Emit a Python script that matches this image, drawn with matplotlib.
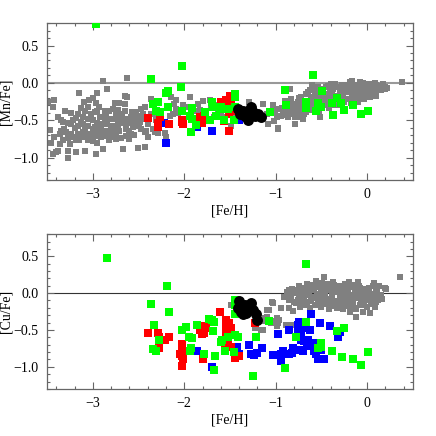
import matplotlib
matplotlib.use("Agg")
import matplotlib.pyplot as plt
from matplotlib.ticker import MultipleLocator

# ---- [Mn/Fe] panel ----
mn_gray_x = [-2.89, -2.63, -3.15, -2.95, -2.84, -2.65, -2.63, -3.42, -3.49, -3.44,
             -3.10, -3.04, -3.00, -2.96, -2.93, -3.05, -3.09, -3.02, -2.98, -2.95,
             -2.87, -2.82, -2.76, -2.71, -2.65, -2.78, -2.75, -2.71, -2.65, -2.57,
             -2.53, -2.47, -2.43, -3.30, -3.24, -3.18, -3.16, -3.11, -3.05, -3.00,
             -2.95, -2.87, -2.82, -2.76, -2.69, -2.63, -2.58, -2.54, -2.49, -2.45,
             -3.35, -3.33, -3.27, -3.24, -3.22, -3.16, -3.11, -3.05, -2.98, -2.93,
             -2.89, -2.84, -2.78, -2.73, -2.67, -2.62, -2.56, -2.51, -2.43, -2.36,
             -3.47, -3.35, -3.29, -3.24, -3.16, -3.11, -3.05, -2.98, -2.93, -2.87,
             -2.82, -2.76, -2.71, -2.64, -2.56, -2.49, -2.42, -3.42, -3.33, -3.27,
             -3.22, -3.18, -3.15, -3.11, -3.07, -3.02, -2.96, -2.91, -2.85, -2.80,
             -2.75, -2.69, -2.64, -2.58, -3.46, -3.36, -3.25, -3.15, -3.05, -2.95,
             -2.82, -2.75, -3.38, -3.40, -3.44, -3.27, -3.18, -3.08, -2.97, -2.89,
             -2.67, -2.51, -2.43, -3.27,
             -3.38, -3.32, -3.20, -3.13, -3.08, -3.00, -2.91, -2.86, -2.80, -2.72,
             -2.68, -2.60, -2.55, -2.47, -2.40, -2.92, -3.13, -2.72, -3.36, -3.00,
             -2.60, -2.48,
             -2.36, -2.33, -2.34, -2.32, -2.29, -2.21, -2.14, -2.11, -2.09, -2.07,
             -2.12, -2.16, -2.01, -1.96, -1.94, -1.85, -1.83, -1.80, -1.72, -1.71,
             -1.67, -1.63, -1.60, -1.56, -1.67, -1.49, -1.14, -1.10, -1.29, -0.99,
             -0.98, -0.85, -1.01, -2.43, -2.40, -2.20, -2.34, -2.31, -2.09, -1.87,
             -1.69, -1.61, -1.47, -1.43,
             -0.84, -1.03, -0.96, -1.08, -0.98, -1.02, -0.79, -0.87, -0.92, -0.89,
             -0.85, -0.81, -0.76, -0.72, -0.68, -0.74, -0.78, -0.65, -0.59, -0.54,
             -0.61, -0.58, -0.52, -0.47, -0.41, -0.37, -0.34, -0.45, -0.30, -0.25,
             -0.19, -0.21, -0.16, -0.17, -0.12, -0.08, -0.03, 0.01, 0.04, 0.08,
             0.13, 0.19, 0.12, 0.04, -0.03, -0.10, -0.16, -0.23, -0.30, -0.37,
             -0.41, -0.50, -0.56, -0.63, -0.67, -0.72, -0.79, -0.83, -0.87, -0.94,
             0.38, -0.54, -0.48, -0.43, -0.36, -0.28, -0.21, -0.14, -0.07, 0.01,
             -0.08, -0.28, -0.39, -0.47, -0.54, -0.61, -0.68, -0.74, -0.79, -0.90,
             -0.70, -0.19, 0.04, -0.14, -0.25, -0.34, -0.17, 0.19, 0.10,
             -0.93, -0.90, -0.88, -0.86, -0.83, -0.81, -0.79, -0.77, -0.75, -0.73,
             -0.71, -0.69, -0.67, -0.66, -0.64, -0.62, -0.60, -0.58, -0.57, -0.55,
             -0.53, -0.51, -0.50, -0.48, -0.46, -0.45, -0.43, -0.42, -0.40, -0.38,
             -0.36, -0.35, -0.33, -0.31, -0.29, -0.27, -0.26, -0.24, -0.22, -0.20,
             -0.18, -0.17, -0.15, -0.13, -0.11, -0.10, -0.08, -0.06, -0.05, -0.03,
             -0.01, 0.02, 0.03, 0.05, 0.07, 0.09, 0.10, 0.12, 0.15, 0.17,
             0.22, -0.60, -0.52, -0.40]
mn_gray_y = [0.03, 0.06, -0.13, -0.13, -0.08, -0.17, -0.19, -0.23, -0.25, -0.32,
             -0.26, -0.23, -0.20, -0.27, -0.32, -0.32, -0.37, -0.41, -0.39, -0.37,
             -0.37, -0.37, -0.27, -0.27, -0.28, -0.35, -0.41, -0.41, -0.37, -0.39,
             -0.39, -0.35, -0.32, -0.38, -0.40, -0.47, -0.41, -0.46, -0.48, -0.50,
             -0.53, -0.50, -0.48, -0.48, -0.50, -0.48, -0.46, -0.45, -0.44, -0.41,
             -0.50, -0.52, -0.54, -0.55, -0.50, -0.57, -0.55, -0.57, -0.59, -0.57,
             -0.55, -0.55, -0.57, -0.55, -0.53, -0.53, -0.53, -0.50, -0.48, -0.41,
             -0.63, -0.64, -0.66, -0.68, -0.69, -0.66, -0.68, -0.66, -0.65, -0.64,
             -0.66, -0.64, -0.64, -0.62, -0.59, -0.57, -0.65, -0.72, -0.77, -0.74,
             -0.72, -0.77, -0.75, -0.73, -0.71, -0.70, -0.71, -0.72, -0.71, -0.72,
             -0.73, -0.74, -0.71, -0.68, -0.80, -0.82, -0.82, -0.77, -0.77, -0.80,
             -0.77, -0.75, -0.91, -0.93, -0.95, -0.91, -0.92, -0.91, -0.95, -0.89,
             -0.89, -0.87, -0.86, -1.00,
             -0.45, -0.62, -0.60, -0.52, -0.62, -0.62, -0.62, -0.45, -0.62, -0.60,
             -0.45, -0.64, -0.70, -0.62, -0.55, -0.45, -0.34, -0.36, -0.68, -0.78,
             -0.75, -0.52,
             -0.22, -0.28, -0.41, -0.66, -0.67, -0.67, -0.19, -0.28, -0.35, -0.40,
             -0.41, -0.44, -0.30, -0.32, -0.19, -0.28, -0.36, -0.24, -0.23, -0.32,
             -0.30, -0.36, -0.41, -0.46, -0.46, -0.57, -0.28, -0.41, -0.26, -0.46,
             -0.62, -0.08, -0.37, -0.66, -0.73, -0.72, -0.62, -0.50, -0.23, -0.37,
             -0.32, -0.37, -0.44, -0.32,
             -0.08, -0.30, -0.35, -0.55, -0.61, -0.51, -0.55, -0.46, -0.41, -0.37,
             -0.26, -0.32, -0.26, -0.19, -0.35, -0.39, -0.35, -0.12, -0.05, -0.05,
             -0.26, -0.19, -0.17, -0.26, -0.12, -0.08, -0.05, -0.05, -0.12, -0.10,
             0.01, -0.05, -0.03, -0.17, -0.12, -0.05, -0.08, -0.05, -0.04, -0.03,
             -0.05, -0.08, -0.10, -0.10, -0.14, -0.19, -0.25, -0.21, -0.23, -0.26,
             -0.30, -0.32, -0.29, -0.30, -0.39, -0.44, -0.46, -0.41, -0.39, -0.44,
             0.01, -0.10, -0.12, -0.17, -0.17, -0.17, -0.12, -0.08, -0.12, -0.12,
             0.01, -0.03, -0.19, -0.19, -0.23, -0.19, -0.28, -0.30, -0.37, -0.30,
             -0.48, -0.12, -0.16, -0.26, -0.26, -0.30, -0.23, -0.06, -0.03,
             -0.34, -0.24, -0.43, -0.31, -0.22, -0.38, -0.28, -0.45, -0.20, -0.33,
             -0.24, -0.42, -0.15, -0.29, -0.36, -0.10, -0.22, -0.33, -0.14, -0.27,
             -0.38, -0.20, -0.08, -0.30, -0.15, -0.22, -0.04, -0.33, -0.21, -0.12,
             -0.28, -0.02, -0.17, -0.24, -0.07, -0.30, -0.14, -0.03, -0.21, -0.09,
             -0.27, 0.02, -0.14, -0.20, -0.03, -0.25, -0.10, -0.17, 0.00, -0.22,
             -0.11, -0.02, -0.19, -0.07, -0.13, 0.00, -0.17, -0.04, -0.10, -0.02,
             -0.07, -0.03, -0.46, -0.02]

mn_green_x = [-2.97, -2.03, -2.36, -2.04, -2.18, -2.20, -2.34, -2.29, -2.31, -2.27,
              -2.18, -2.02, -1.94, -1.92, -1.91, -1.87, -1.93, -1.77, -1.72, -1.70,
              -1.69, -1.65, -1.61, -1.60, -1.57, -1.45, -1.45, -1.52, -1.46, -1.45,
              -1.06, -0.90, -0.89, -0.67, -0.67, -0.59, -0.56, -0.54, -0.49, -0.50,
              -0.38, -0.37, -0.33, -0.29, -0.25, -0.16, -0.07, 0.01]
mn_green_y = [0.79, 0.23, 0.05, -0.06, -0.11, -0.14, -0.28, -0.26, -0.37, -0.39,
              -0.32, -0.37, -0.44, -0.48, -0.33, -0.56, -0.66, -0.39, -0.50, -0.26,
              -0.32, -0.44, -0.35, -0.32, -0.50, -0.15, -0.19, -0.35, -0.50, -0.32,
              -0.39, -0.09, -0.30, -0.25, -0.33, 0.11, -0.38, -0.27, -0.11, -0.32,
              -0.27, -0.43, -0.20, -0.27, -0.36, -0.30, -0.42, -0.38]

mn_red_x = [-2.40, -2.29, -2.29, -2.27, -2.17, -2.03, -2.01, -2.02, -1.83, -1.80,
            -1.81, -1.78, -1.60, -1.54, -1.50, -1.52, -1.49, -1.51, -1.57, -1.51,
            -1.47]
mn_red_y = [-0.47, -0.53, -0.59, -0.46, -0.55, -0.52, -0.55, -0.50, -0.46, -0.48,
            -0.53, -0.44, -0.26, -0.23, -0.17, -0.30, -0.26, -0.42, -0.51, -0.65,
            -0.37]

mn_blue_x = [-2.22, -2.20, -1.86, -1.70, -1.40, -1.23]
mn_blue_y = [-0.53, -0.80, -0.59, -0.64, -0.50, -0.46]

mn_black_x = [-1.41, -1.36, -1.34, -1.30, -1.27, -1.25, -1.19, -1.16, -1.39, -1.30,
              -1.23]
mn_black_y = [-0.35, -0.37, -0.44, -0.50, -0.32, -0.39, -0.41, -0.46, -0.41, -0.37,
              -0.44]

# ---- [Cu/Fe] panel ----
cu_gray_x = [-0.47, 0.36, -1.03, -1.07, -0.94, -0.99, -1.10, -0.96, -1.01, -0.98,
             -0.89, -0.83, -0.85, -0.81, -0.85, -0.87, -0.83, -0.79, -0.74, -0.72,
             -0.76, -0.69, -0.65, -0.61, -0.58, -0.54, -0.50, -0.54, -0.61, -0.68,
             -0.45, -0.41, -0.39, -0.36, -0.32, -0.28, -0.27, -0.21, -0.19, -0.14,
             -0.10, -0.07, -0.03, 0.01, 0.04, 0.08, 0.10, 0.13, 0.19, -0.14,
             -0.19, -0.12, 0.03, -0.28, -0.36, -0.41, -0.47, -0.34, -0.23, -0.17,
             -0.03, -0.78, -0.72, -0.79, -0.67, -0.58, -0.48, -0.30, -0.16, -0.25,
             -0.38, -0.47, -0.08, 0.01, 0.12, 0.06,
             -1.49, -1.14, -1.12, -1.23, -1.16, -1.09, -1.14, -1.05, -0.99, -1.04,
             -0.89,
             -0.91, -0.88, -0.86, -0.82, -0.80, -0.77, -0.75, -0.73, -0.70, -0.70,
             -0.66, -0.66, -0.64, -0.63, -0.60, -0.59, -0.57, -0.56, -0.55, -0.52,
             -0.52, -0.50, -0.49, -0.48, -0.46, -0.44, -0.43, -0.42, -0.40, -0.38,
             -0.37, -0.35, -0.33, -0.31, -0.30, -0.29, -0.27, -0.26, -0.24, -0.23,
             -0.22, -0.20, -0.18, -0.17, -0.15, -0.13, -0.12, -0.11, -0.09, -0.08,
             -0.06, -0.05, -0.04, -0.02, 0.00, 0.02, 0.03, 0.05, 0.06, 0.08,
             0.10, 0.11, 0.13, 0.15, 0.16, 0.21, 0.09, -0.62, -0.45, -0.34,
             -0.72, -0.84, -0.10, -0.20, -0.50]
cu_gray_y = [0.22, 0.22, -0.13, -0.23, -0.20, -0.34, -0.32, -0.36, -0.38, -0.41,
             -0.43, -0.43, -0.20, -0.24, 0.04, -0.01, -0.05, 0.04, 0.09, 0.02,
             -0.09, -0.05, 0.07, 0.11, 0.04, 0.13, 0.00, -0.09, -0.11, -0.16,
             0.09, 0.04, -0.05, 0.11, 0.02, -0.09, 0.09, 0.04, -0.05, 0.11,
             0.00, -0.11, 0.04, -0.05, -0.11, 0.14, 0.04, -0.02, 0.07, -0.20,
             -0.25, -0.32, -0.27, -0.16, -0.18, -0.16, -0.11, -0.11, -0.14, -0.14,
             -0.16, -0.14, -0.14, 0.00, 0.00, -0.05, -0.05, -0.05, -0.07, 0.00,
             0.00, 0.02, 0.07, 0.02, -0.09, -0.02,
             -0.16, -0.38, -0.34, -0.47, -0.50, -0.23, -0.50, -0.40, -0.44, -0.12,
             -0.43,
             -0.05, 0.02, -0.10, 0.06, -0.12, 0.03, -0.04, -0.19, 0.07, -0.09,
             0.13, -0.12, -0.02, -0.20, 0.08, -0.06, -0.16, 0.16, -0.01, 0.08,
             -0.12, -0.19, 0.14, 0.05, -0.02, -0.15, 0.12, -0.22, 0.07, -0.09,
             0.15, 0.03, -0.20, 0.10, -0.03, -0.13, 0.05, -0.22, 0.12, -0.07,
             0.01, -0.17, 0.08, -0.02, -0.12, 0.04, -0.22, -0.07, 0.09, -0.16,
             -0.02, -0.25, 0.05, -0.09, -0.19, 0.07, -0.01, -0.15, 0.10, -0.06,
             -0.12, 0.02, 0.09, -0.03, -0.08, 0.05, -0.19, 0.05, -0.08, -0.15,
             -0.02, -0.04, 0.15, 0.15, 0.11]

cu_green_x = [-2.85, -2.19, -2.36, -2.17, -2.33, -2.28, -2.34, -2.31, -2.02, -1.98,
              -1.95, -1.91, -1.93, -1.94, -1.86, -1.73, -1.70, -1.67, -1.69, -1.78,
              -1.66, -1.67, -1.59, -1.60, -1.56, -1.52, -1.45, -1.45, -1.45, -1.45,
              -1.41, -1.46, -1.22, -1.25, -1.07, -0.67, -0.67, -0.78, -0.90, -0.54,
              -0.51, -0.50, -0.38, -0.33, -0.25, -0.28, -0.16, -0.07, 0.01]
cu_green_y = [0.47, 0.10, -0.15, -0.26, -0.43, -0.64, -0.76, -0.78, -0.50, -0.46,
              -0.60, -0.61, -0.74, -0.78, -0.43, -0.35, -0.37, -0.39, -0.52, -0.82,
              -0.85, -1.05, -0.63, -0.67, -0.79, -0.60, -0.10, -0.16, -0.28, -0.57,
              -0.60, -0.80, -0.60, -1.13, -0.38, 0.39, -0.39, -0.59, -1.02, -0.74,
              -0.68, -0.73, -0.79, -0.51, -0.47, -0.87, -0.89, -0.98, -0.80]

cu_red_x = [-2.40, -2.29, -2.28, -2.17, -2.21, -2.28, -2.02, -2.03, -2.05, -2.02,
            -2.01, -2.03, -1.81, -1.79, -1.81, -1.83, -1.78, -1.78, -1.76, -1.79,
            -1.61, -1.54, -1.51, -1.54, -1.51, -1.54, -1.49, -1.52, -1.49, -1.56,
            -1.44, -1.40, -1.23]
cu_red_y = [-0.54, -0.54, -0.59, -0.60, -0.64, -0.75, -0.69, -0.77, -0.83, -0.86,
            -0.90, -0.99, -0.47, -0.52, -0.56, -0.50, -0.45, -0.54, -0.47, -0.89,
            -0.26, -0.36, -0.41, -0.48, -0.54, -0.53, -0.47, -0.70, -0.73, -0.72,
            -0.88, -0.86, -0.40]

cu_blue_x = [-1.86, -1.70, -1.42, -1.40, -1.29, -1.27, -1.24, -1.20, -1.15, -0.97,
             -1.03, -0.94, -0.92, -0.94, -0.85, -0.86, -0.81, -0.82, -0.76, -0.74,
             -0.72, -0.70, -0.76, -0.72, -0.74, -0.70, -0.72, -0.69, -0.66, -0.63,
             -0.61, -0.65, -0.59, -0.58, -0.56, -0.54, -0.52, -0.41, -0.47, -0.32,
             -0.30, -0.50, -0.62]
cu_blue_y = [-0.78, -1.00, -0.73, -0.82, -0.71, -0.83, -0.84, -0.81, -0.74, -0.56,
             -0.84, -0.83, -0.79, -0.92, -0.50, -0.83, -0.74, -0.81, -0.43, -0.39,
             -0.50, -0.47, -0.54, -0.59, -0.77, -0.79, -0.63, -0.65, -0.68, -0.50,
             -0.29, -0.64, -0.68, -0.79, -0.83, -0.89, -0.41, -0.44, -0.89, -0.60,
             -0.53, -0.77, -0.72]

cu_black_x = [-1.40, -1.41, -1.38, -1.34, -1.32, -1.27, -1.25, -1.22, -1.21, -1.30,
              -1.36]
cu_black_y = [-0.11, -0.20, -0.25, -0.16, -0.27, -0.14, -0.23, -0.29, -0.36, -0.20,
              -0.29]

xlabel = "[Fe/H]"
ylabels = ["[Mn/Fe]", "[Cu/Fe]"]
plt.rcParams['font.family'] = ['Liberation Serif', 'DejaVu Serif']
plt.rcParams['font.size'] = 10


def style_axes(ax, ylab, zero_color, zero_lw):
    ax.set_xlim(-3.5, 0.5)
    ax.set_ylim(-1.3, 0.8)
    ax.axhline(0, color=zero_color, lw=zero_lw, zorder=1)
    ax.xaxis.set_major_locator(MultipleLocator(1))
    ax.xaxis.set_minor_locator(MultipleLocator(0.2))
    ax.yaxis.set_major_locator(MultipleLocator(0.5))
    ax.yaxis.set_minor_locator(MultipleLocator(0.1))
    ax.tick_params(which='both', direction='in', top=True, right=True,
                   color='#666666', width=0.8)
    ax.tick_params(which='major', length=5, pad=6)
    ax.tick_params(which='minor', length=2.5)
    for sp in ax.spines.values():
        sp.set_color('#666666')
        sp.set_linewidth(0.9)
    ax.set_xlabel(xlabel, labelpad=2)
    ax.set_ylabel(ylab, labelpad=1)


fig = plt.figure(figsize=(4.36, 4.36), dpi=100)
ax1 = fig.add_axes([0.108, 0.587, 0.839, 0.360])
ax2 = fig.add_axes([0.108, 0.108, 0.839, 0.355])

gray_kw = dict(marker='s', s=15, c='#808080', linewidths=0, zorder=2)
col_kw = dict(marker='s', s=27, linewidths=0, zorder=3)
blk_kw = dict(marker='o', s=62, c='black', linewidths=0, zorder=5)

ax1.scatter(mn_gray_x, mn_gray_y, **gray_kw)
ax1.scatter(mn_blue_x, mn_blue_y, c='#0000ff', **col_kw)
ax1.scatter(mn_red_x, mn_red_y, c='#ff0000', **col_kw)
ax1.scatter(mn_green_x, mn_green_y, c='#00ff00', **col_kw)
ax1.scatter(mn_black_x, mn_black_y, **blk_kw)
style_axes(ax1, ylabels[0], '#999999', 1.5)

ax2.scatter(cu_gray_x, cu_gray_y, **gray_kw)
ax2.scatter(cu_blue_x, cu_blue_y, c='#0000ff', **col_kw)
ax2.scatter(cu_red_x, cu_red_y, c='#ff0000', **col_kw)
ax2.scatter(cu_green_x, cu_green_y, c='#00ff00', **col_kw)
ax2.scatter(cu_black_x, cu_black_y, **blk_kw)
style_axes(ax2, ylabels[1], '#333333', 0.8)

fig.savefig("out.png", dpi=100)
